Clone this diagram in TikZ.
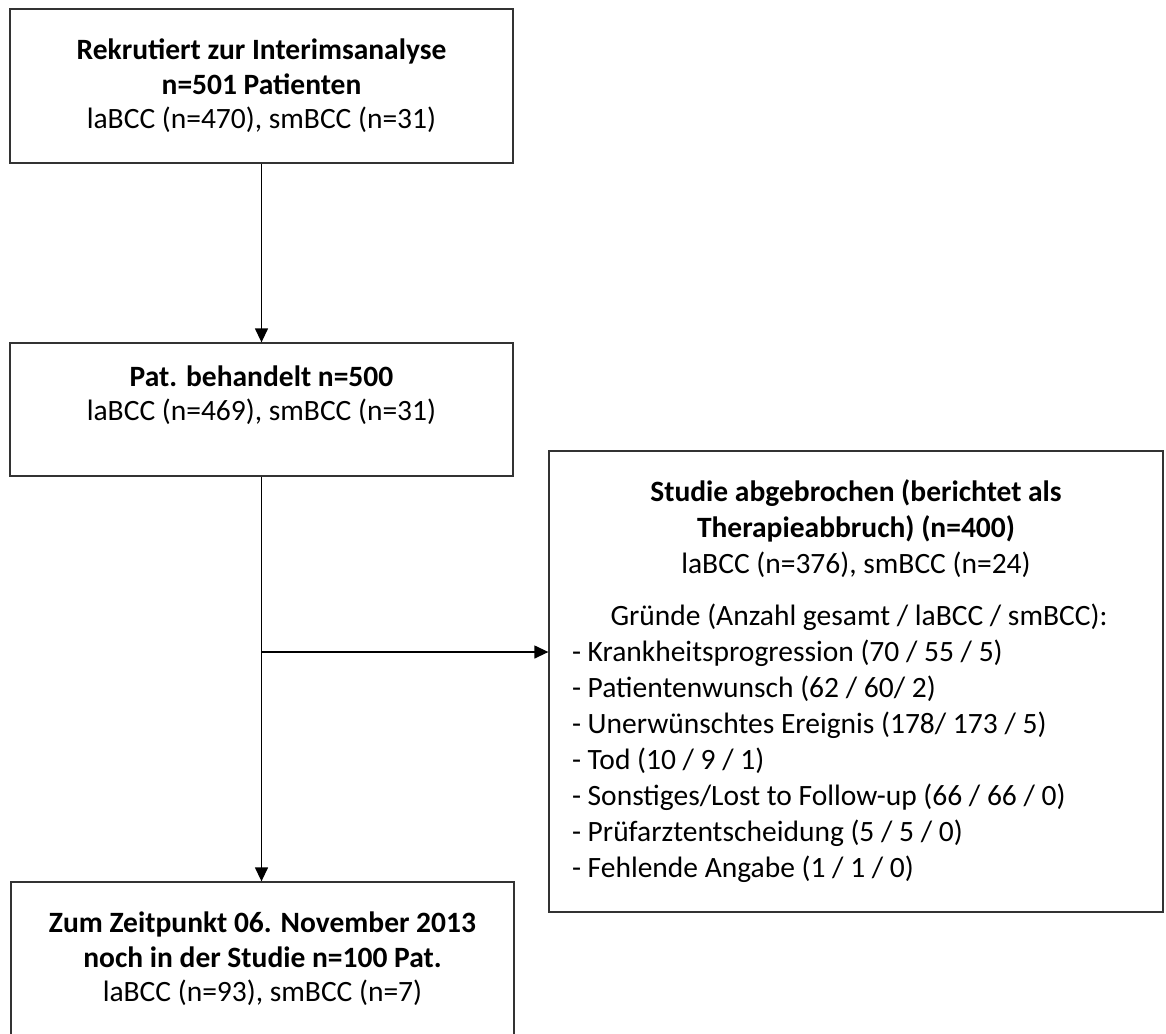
\documentclass[tikz,border=0pt]{standalone}
\usepackage{fontspec}
\setmainfont{Carlito}
\usepackage{tikz}
\usetikzlibrary{arrows.meta,positioning}

\begin{document}
\begin{tikzpicture}[x=1pt,y=-1pt,
  box/.style={draw=black!80,line width=1.3pt,rectangle,minimum width=503pt,
    inner sep=0pt,align=center,font=\fontsize{29.5}{34.5}\selectfont},
  flow/.style={line width=1.3pt,-{Triangle[length=14pt,width=13pt]}}]
  \useasboundingbox (0,0) rectangle (1166,1033);

  % Boxes
  \node[box,minimum height=154pt] (rekr) at (261.5,86)
    {\textbf{Rekrutiert zur Interimsanalyse}\\\textbf{n=501 Patienten}\\laBCC (n=470), smBCC (n=31)};
  \node[box,minimum height=133pt] (beh) at (261.5,409.5)
    {\textbf{Pat. behandelt n=500}\\laBCC (n=469), smBCC (n=31)\\[-2pt]};
  \node[box,minimum height=154pt] (rest) at (262.5,959)
    {\textbf{Zum Zeitpunkt 06. November 2013}\\\textbf{noch in der Studie n=100 Pat.}\\laBCC (n=93), smBCC (n=7)};
  \node[box,minimum width=614pt,minimum height=461pt,text width=568pt,align=flush left,
        font=\fontsize{29.5}{36}\selectfont] (abbr) at (856,681.5)
    {\centering\textbf{Studie abgebrochen (berichtet als}\\\textbf{Therapieabbruch) (n=400)}\\laBCC (n=376), smBCC (n=24)\\[16pt]
     \hspace*{6pt}Gründe (Anzahl gesamt / laBCC / smBCC):\par
     \raggedright
     - Krankheitsprogression (70 / 55 / 5)\\
     - Patientenwunsch (62 / 60/ 2)\\
     - Unerwünschtes Ereignis (178/ 173 / 5)\\
     - Tod (10 / 9 / 1)\\
     - Sonstiges/Lost to Follow-up (66 / 66 / 0)\\
     - Prüfarztentscheidung (5 / 5 / 0)\\
     - Fehlende Angabe (1 / 1 / 0)\par};

  % Arrows
  \coordinate (split) at (beh.south |- 0,652);
  \draw[flow] (rekr.south -| beh.north) -- (beh.north);
  \draw[flow] (beh.south) -- (beh.south |- rest.north);
  \draw[flow] (split) -- (split -| abbr.west);
\end{tikzpicture}
\end{document}
